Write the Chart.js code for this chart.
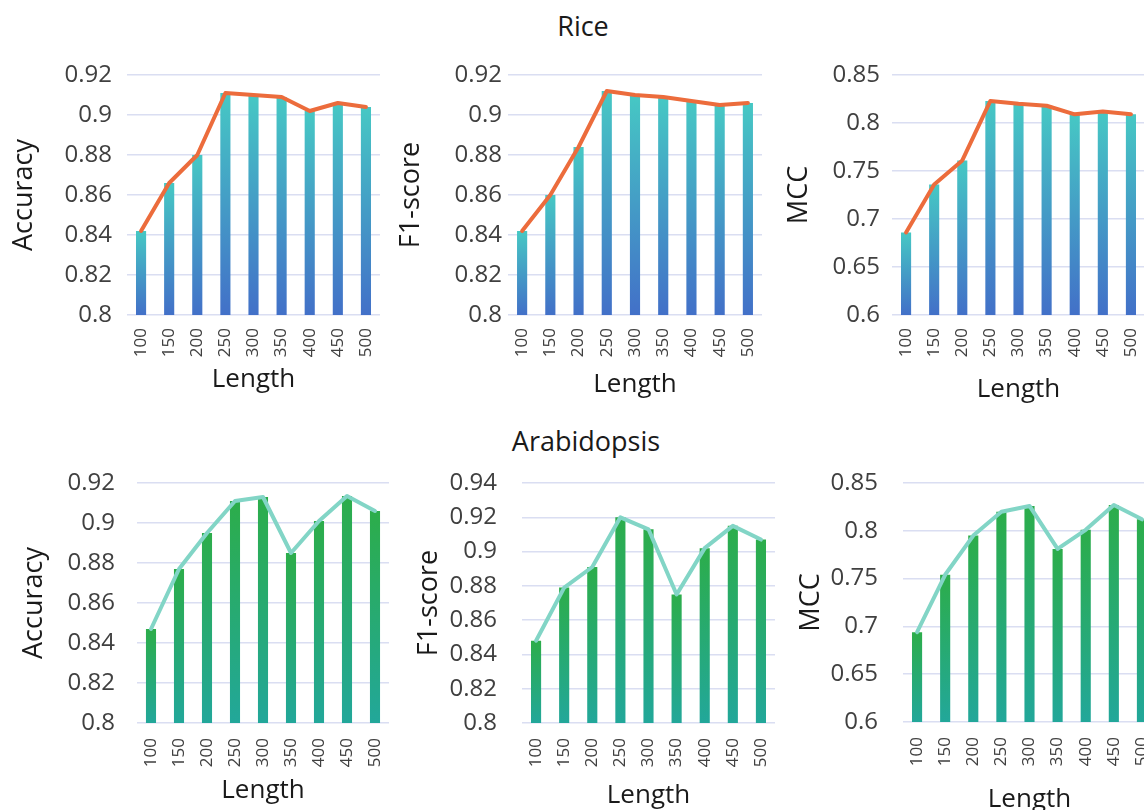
<!DOCTYPE html>
<html>
<head>
<meta charset="utf-8">
<script src="https://cdn.jsdelivr.net/npm/chart.js@4.4.1/dist/chart.umd.min.js"></script>
<style>
  html, body { margin: 0; padding: 0; background: #fff; overflow: hidden; }
  body { width: 1144px; height: 810px; position: relative; font-family: "Open Sans", sans-serif; }
  canvas { position: absolute; }
  .group-title {
    position: absolute; font-size: 27px; line-height: 1; color: #1a1a1a;
    transform: translate(-50%, -50%); white-space: nowrap;
  }
</style>
</head>
<body>
<div class="group-title" style="left:583px; top:25px;">Rice</div>
<div class="group-title" style="left:586px; top:440px;">Arabidopsis</div>
<canvas id="riceAcc"></canvas>
<canvas id="riceF1"></canvas>
<canvas id="riceMcc"></canvas>
<canvas id="arabAcc"></canvas>
<canvas id="arabF1"></canvas>
<canvas id="arabMcc"></canvas>
<script>
// sequence lengths on the x axis
const lengths = ["100", "150", "200", "250", "300", "350", "400", "450", "500"];

// Rice
const riceAccuracy = [0.842, 0.866, 0.880, 0.911, 0.910, 0.909, 0.902, 0.906, 0.904];
const riceF1 = [0.842, 0.860, 0.884, 0.912, 0.910, 0.909, 0.907, 0.905, 0.906];
const riceMcc = [0.686, 0.736, 0.761, 0.823, 0.820, 0.818, 0.809, 0.812, 0.809];

// Arabidopsis
const arabAccuracy = [0.847, 0.877, 0.895, 0.911, 0.913, 0.885, 0.901, 0.9135, 0.906];
const arabF1 = [0.848, 0.879, 0.891, 0.920, 0.913, 0.875, 0.902, 0.915, 0.907];
const arabMcc = [0.694, 0.754, 0.795, 0.820, 0.826, 0.781, 0.801, 0.827, 0.812];

// y axis ranges: [min, max, step]
const accTicks = [0.8, 0.92, 0.02];
const f1TicksRice = [0.8, 0.92, 0.02];
const f1TicksArab = [0.8, 0.94, 0.02];
const mccTicks = [0.6, 0.85, 0.05];

Chart.defaults.font.family = '"Open Sans", sans-serif';

const riceColors = { line: "#ec6c3c", top: "#46c8c4", bottom: "#4270c8" };
const arabColors = { line: "#82d5c6", top: "#2cad4a", bottom: "#22a79a" };

// per-bar vertical gradient, like the Excel fill
function barFill(top, bottom) {
    return (ctx) => {
        const chart = ctx.chart;
        const area = chart.chartArea;
        if (!area || ctx.type !== "data") return top;
        const y = chart.scales.y.getPixelForValue(ctx.raw);
        const g = chart.ctx.createLinearGradient(0, y, 0, area.bottom);
        g.addColorStop(0, top);
        g.addColorStop(1, bottom);
        return g;
    };
}

function makeChart(id, box, values, ticks, yLabel, colors) {
    const canvas = document.getElementById(id);
    const width = box.plotR + 10 - box.left;
    const height = Math.round(box.xTitleY + 15.6 - box.top);
    canvas.width = width;
    canvas.height = height;
    canvas.style.left = box.left + "px";
    canvas.style.top = box.top + "px";
    const xHeight = height - (box.plotB - box.top);

    new Chart(canvas, {
        data: {
            labels: lengths,
            datasets: [
                {
                    type: "line",
                    data: values,
                    borderColor: colors.line,
                    borderWidth: 4,
                    pointRadius: 0,
                    tension: 0,
                    borderJoinStyle: "round",
                    borderCapStyle: "round",
                    order: 0,
                },
                {
                    type: "bar",
                    data: values,
                    backgroundColor: barFill(colors.top, colors.bottom),
                    barPercentage: 0.36,
                    categoryPercentage: 1,
                    order: 1,
                },
            ],
        },
        options: {
            responsive: false,
            animation: false,
            layout: {
                padding: { top: box.plotT - box.top, right: 10, left: 0, bottom: 0 },
            },
            plugins: {
                legend: { display: false },
                tooltip: { enabled: false },
            },
            scales: {
                x: {
                    grid: { display: false, drawTicks: false },
                    border: { display: false },
                    ticks: {
                        minRotation: 90,
                        maxRotation: 90,
                        padding: box.xTickGap,
                        color: "#404040",
                        font: { size: 17 },
                    },
                    title: {
                        display: true,
                        text: "Length",
                        color: "#1a1a1a",
                        font: { size: 26 },
                        padding: 0,
                    },
                    afterFit: (s) => {
                        s.height = xHeight;
                        s.paddingLeft = 0;
                        s.paddingRight = 0;
                    },
                },
                y: {
                    min: ticks[0],
                    max: ticks[1],
                    grid: { color: "#dadef2", lineWidth: 1.5, drawTicks: false },
                    border: { display: false },
                    ticks: {
                        stepSize: ticks[2],
                        padding: box.yTickGap,
                        color: "#404040",
                        font: { size: 24 },
                        callback: (v) => String(parseFloat(v.toFixed(2))),
                    },
                    title: {
                        display: true,
                        text: yLabel,
                        color: "#1a1a1a",
                        font: { size: 27 },
                        padding: { top: box.yTitleX - box.left - 16.2, bottom: 0 },
                    },
                    afterFit: (s) => {
                        s.width = box.plotL - box.left;
                        s.paddingTop = 0;
                        s.paddingBottom = 0;
                    },
                },
            },
        },
    });
}

makeChart("riceAcc",
    { left: 0, top: 45, plotL: 127, plotR: 380, plotT: 75, plotB: 315, yTitleX: 24, xTitleY: 379, yTickGap: 15, xTickGap: 13 },
    riceAccuracy, accTicks, "Accuracy", riceColors);
makeChart("riceF1",
    { left: 390, top: 45, plotL: 508, plotR: 762, plotT: 75, plotB: 315, yTitleX: 411, xTitleY: 384, yTickGap: 6, xTickGap: 13 },
    riceF1, f1TicksRice, "F1-score", riceColors);
makeChart("riceMcc",
    { left: 775, top: 45, plotL: 892, plotR: 1145, plotT: 75, plotB: 315, yTitleX: 799, xTitleY: 389, yTickGap: 12, xTickGap: 13 },
    riceMcc, mccTicks, "MCC", riceColors);
makeChart("arabAcc",
    { left: 0, top: 455, plotL: 137, plotR: 389, plotT: 483, plotB: 723, yTitleX: 34, xTitleY: 790, yTickGap: 22, xTickGap: 15 },
    arabAccuracy, accTicks, "Accuracy", arabColors);
makeChart("arabF1",
    { left: 395, top: 455, plotL: 522, plotR: 775, plotT: 483, plotB: 723, yTitleX: 429, xTitleY: 795, yTickGap: 25, xTickGap: 15 },
    arabF1, f1TicksArab, "F1-score", arabColors);
makeChart("arabMcc",
    { left: 785, top: 455, plotL: 903, plotR: 1156, plotT: 483, plotB: 722, yTitleX: 811, xTitleY: 799, yTickGap: 25, xTickGap: 15 },
    arabMcc, mccTicks, "MCC", arabColors);
</script>
</body>
</html>
